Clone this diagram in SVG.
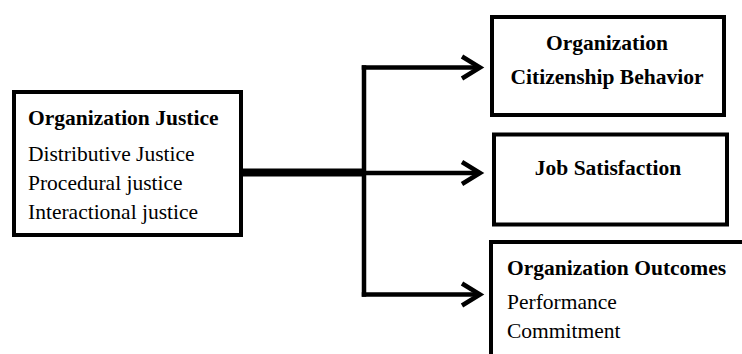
<svg xmlns="http://www.w3.org/2000/svg" width="742" height="354" viewBox="0 0 742 354">
<style>
.box{fill:#fff;stroke:#000;stroke-width:4}
.t{font-family:"Liberation Serif","Times New Roman",serif;font-size:21.5px;fill:#000}
.b{font-weight:bold}
.c{text-anchor:middle}
.ln{fill:none;stroke:#000;stroke-width:4.5}
</style>
<defs>
<marker id="arr" markerUnits="userSpaceOnUse" markerWidth="30" markerHeight="30" viewBox="-22 -15 30 30" refX="0" refY="0" orient="auto">
<polyline points="-18,-11 0,0 -18,11" fill="none" stroke="#000" stroke-width="4.5" stroke-linejoin="miter"/>
</marker>
</defs>
<rect width="742" height="354" fill="#fff"/>
<g id="connectors">
<line x1="243" y1="172.5" x2="366" y2="172.5" stroke="#000" stroke-width="8"/>
<line class="ln" x1="364" y1="65.25" x2="364" y2="296.75"/>
<line class="ln" x1="361.75" y1="67.5" x2="480" y2="67.5" marker-end="url(#arr)"/>
<line class="ln" x1="364" y1="173" x2="480" y2="173" marker-end="url(#arr)"/>
<line class="ln" x1="361.75" y1="294.5" x2="480" y2="294.5" marker-end="url(#arr)"/>
</g>
<g id="org-justice">
<rect class="box" x="14" y="92" width="227" height="143"/>
<text class="t b" x="28" y="125">Organization Justice</text>
<text class="t" x="28" y="161">Distributive Justice</text>
<text class="t" x="28" y="190">Procedural justice</text>
<text class="t" x="28" y="219">Interactional justice</text>
</g>
<g id="ocb">
<rect class="box" x="492" y="17" width="232" height="98"/>
<text class="t b c" x="607" y="50">Organization</text>
<text class="t b c" x="607" y="84">Citizenship Behavior</text>
</g>
<g id="job-satisfaction">
<rect class="box" x="494" y="134.5" width="233" height="90"/>
<text class="t b c" x="608" y="175">Job Satisfaction</text>
</g>
<g id="org-outcomes">
<rect class="box" x="491" y="242" width="300" height="200"/>
<text class="t b" x="507" y="275">Organization Outcomes</text>
<text class="t" x="507" y="309">Performance</text>
<text class="t" x="507" y="338">Commitment</text>
</g>
</svg>
